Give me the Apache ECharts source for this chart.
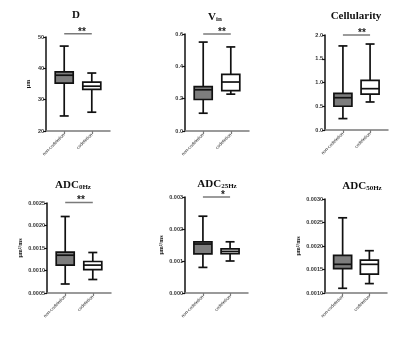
<!DOCTYPE html>
<html><head><meta charset="utf-8">
<script src="https://cdn.jsdelivr.net/npm/echarts@6/dist/echarts.min.js"></script>
<style>html,body{margin:0;padding:0;background:#fff}#c{width:400px;height:342px}</style>
</head><body><div id="c"></div>
<script>
const categories = ['non-codeletion', 'codeletion'];
// [min, Q1, median, Q3, max] per category
const dStats = [[24.8, 35.3, 37.8, 38.9, 47.1], [26.0, 33.3, 34.3, 35.6, 38.5]];
const vinStats = [[0.11, 0.195, 0.255, 0.275, 0.55], [0.228, 0.25, 0.303, 0.35, 0.52]];
const cellStats = [[0.24, 0.5, 0.68, 0.77, 1.77], [0.59, 0.755, 0.87, 1.045, 1.81]];
const adc0Stats = [[0.0007, 0.00112, 0.00134, 0.00141, 0.0022], [0.0008, 0.00102, 0.00112, 0.0012, 0.0014]];
const adc25Stats = [[0.0008, 0.00122, 0.00153, 0.0016, 0.0024], [0.001, 0.00123, 0.0013, 0.00138, 0.0016]];
const adc50Stats = [[0.0011, 0.00152, 0.00161, 0.0018, 0.0026], [0.0012, 0.0014, 0.00161, 0.0017, 0.0019]];
const sigMarks = ['**', '**', '**', '**', '*', ''];
const sigLevels = [51, 0.6, 2.0, 0.00251, 0.003, null];
const yMins = [20, 0, 0, 0.0005, 0, 0.001];
const yMaxs = [50, 0.6, 2.0, 0.0025, 0.003, 0.003];
const yIntervals = [10, 0.2, 0.5, 0.0005, 0.001, 0.0005];
const yDecimals = [0, 1, 1, 4, 3, 4];
const yNames = ['μm', '', '', 'μm²/ms', 'μm²/ms', 'μm²/ms'];
const titles = ['D', 'V{s|in}', 'Cellularity', 'ADC{s|0Hz}', 'ADC{s|25Hz}', 'ADC{s|50Hz}'];
const allStats = [dStats, vinStats, cellStats, adc0Stats, adc25Stats, adc50Stats];

const gridPos = [
  {left: 46, top: 37, width: 64, height: 94, nameGap: 15},
  {left: 185, top: 34, width: 64, height: 97, nameGap: 20},
  {left: 325, top: 35, width: 63, height: 95, nameGap: 20},
  {left: 47, top: 203, width: 64, height: 90, nameGap: 24},
  {left: 185, top: 197, width: 63, height: 96, nameGap: 21},
  {left: 325, top: 199, width: 62, height: 94, nameGap: 24}
];
const titlePos = [[71, 5], [210, 6], [351, 6], [68, 174], [212, 173], [357, 175]];
const starPos = [[77, 22], [217, 22], [357, 23], [76, 190], [218, 185]];

const FONT = 'Liberation Sans';
const SERIF = 'Liberation Serif';

function renderBox(params, api) {
  const x = api.value(0);
  const mn = api.coord([x, api.value(1)]);
  const q1 = api.coord([x, api.value(2)]);
  const md = api.coord([x, api.value(3)]);
  const q3 = api.coord([x, api.value(4)]);
  const mx = api.coord([x, api.value(5)]);
  const hw = 9, cw = 4.5, cx = mx[0];
  const st = {stroke: '#111', lineWidth: 1.7, fill: null};
  return {
    type: 'group',
    children: [
      {type: 'line', shape: {x1: cx, y1: mx[1], x2: cx, y2: q3[1]}, style: st},
      {type: 'line', shape: {x1: cx, y1: q1[1], x2: cx, y2: mn[1]}, style: st},
      {type: 'line', shape: {x1: cx - cw, y1: mx[1], x2: cx + cw, y2: mx[1]}, style: st},
      {type: 'line', shape: {x1: cx - cw, y1: mn[1], x2: cx + cw, y2: mn[1]}, style: st},
      {type: 'rect', shape: {x: cx - hw, y: q3[1], width: hw * 2, height: q1[1] - q3[1]},
        style: {stroke: '#111', lineWidth: 1.7, fill: x === 0 ? '#7d7d7d' : '#ffffff'}},
      {type: 'line', shape: {x1: cx - hw, y1: md[1], x2: cx + hw, y2: md[1]}, style: st}
    ]
  };
}

const grid = [], xAxis = [], yAxis = [], series = [], title = [];
for (let i = 0; i < 6; i++) {
  const g = gridPos[i];
  grid.push({left: g.left, top: g.top, width: g.width, height: g.height});
  xAxis.push({
    type: 'value', gridIndex: i, min: -0.66, max: 1.66,
    splitLine: {show: false},
    axisLine: {show: true, onZero: false, lineStyle: {color: '#7a7a7a', width: 1.5}},
    axisTick: {show: true, customValues: [0, 1], length: 3, lineStyle: {color: '#7a7a7a', width: 1.2}},
    axisLabel: {show: true, customValues: [0, 1], rotate: 45, fontSize: 4.5, color: '#222', fontFamily: FONT,
      margin: 3, formatter: v => categories[Math.round(v)] || ''}
  });
  const dec = yDecimals[i];
  yAxis.push({
    type: 'value', gridIndex: i, min: yMins[i], max: yMaxs[i], interval: yIntervals[i],
    splitLine: {show: false},
    axisLine: {show: true, onZero: false, lineStyle: {color: '#111', width: 1.5}},
    axisTick: {show: true, length: 3, lineStyle: {color: '#111', width: 1.2}},
    axisLabel: {fontSize: 5.5, fontWeight: 'bold', color: '#333', fontFamily: FONT, margin: 2,
      formatter: v => Number(v).toFixed(dec)},
    name: yNames[i], nameLocation: 'middle', nameRotate: 90, nameGap: g.nameGap,
    nameTextStyle: {fontSize: 6, fontWeight: 'bold', fontFamily: SERIF, color: '#111'}
  });
  const data = allStats[i].map((s, k) => [k].concat(s));
  series.push({
    type: 'custom', xAxisIndex: i, yAxisIndex: i, renderItem: renderBox,
    encode: {x: 0, y: [1, 2, 3, 4, 5]}, data: data, silent: true, clip: false
  });
  if (sigLevels[i] !== null) {
    series.push({
      type: 'line', xAxisIndex: i, yAxisIndex: i, clip: false, symbol: 'none', silent: true,
      lineStyle: {color: '#7a7a7a', width: 1.5},
      data: [[0, sigLevels[i]], [1, sigLevels[i]]]
    });
    title.push({
      text: sigMarks[i], left: starPos[i][0], top: starPos[i][1], textAlign: 'center',
      textStyle: {fontSize: 10, fontWeight: 'bold', color: '#222', fontFamily: FONT}
    });
  }
  title.push({
    text: titles[i], left: titlePos[i][0], top: titlePos[i][1], textAlign: 'center',
    textStyle: {
      fontSize: 11, fontWeight: 'bold', fontFamily: SERIF, color: '#111',
      rich: {s: {fontSize: 7, fontWeight: 'bold', fontFamily: SERIF, color: '#111', padding: [5, 0, 0, 0]}}
    }
  });
}

const chart = echarts.init(document.getElementById('c'), null, {renderer: 'canvas'});
chart.setOption({animation: false, backgroundColor: '#fff', title, grid, xAxis, yAxis, series});
</script></body></html>
